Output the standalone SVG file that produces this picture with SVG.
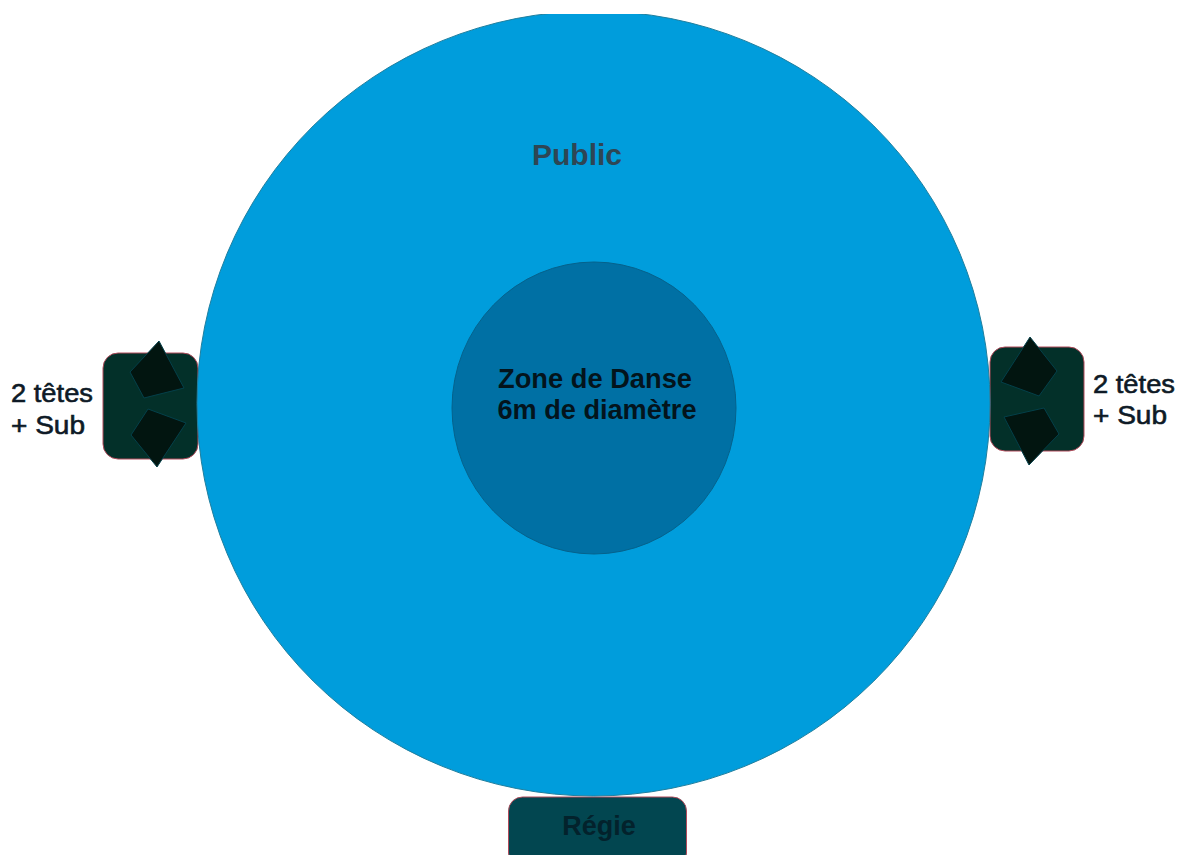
<svg xmlns="http://www.w3.org/2000/svg" width="1177" height="855" viewBox="0 0 1177 855">
<style>
text{font-family:"Liberation Sans",Arial,sans-serif}
.lab{font-size:26px;fill:#0e1a26;stroke:#0e1a26;stroke-width:.6px}
.b{font-weight:bold}
.box{fill:#033029;stroke:#b04a5a;stroke-width:1}
.head{fill:#021510;stroke:#04404a;stroke-width:1}
</style>
<defs><clipPath id="c"><rect x="0" y="14" width="1177" height="841"/></clipPath></defs>
<rect width="1177" height="855" fill="#fff"/>
<g id="speaker-left">
<rect class="box" x="103" y="353" width="95" height="106" rx="15"/>
<polygon class="head" points="159,341 184,388 144,398 130,372"/>
<polygon class="head" points="148,409 186,423 157,467 131,435"/>
<text class="lab" x="11" y="402" textLength="82" lengthAdjust="spacingAndGlyphs">2 têtes</text>
<text class="lab" x="11" y="434" textLength="74" lengthAdjust="spacingAndGlyphs">+ Sub</text>
</g>
<g id="speaker-right">
<rect class="box" x="990" y="347" width="94" height="104" rx="15"/>
<polygon class="head" points="1030,337 1057,371 1039,396 1001,382"/>
<polygon class="head" points="1044,408 1059,434 1029,465 1004,417"/>
<text class="lab" x="1093" y="393" textLength="82" lengthAdjust="spacingAndGlyphs">2 têtes</text>
<text class="lab" x="1093" y="424" textLength="74" lengthAdjust="spacingAndGlyphs">+ Sub</text>
</g>
<g id="regie">
<rect x="508.500" y="797" width="178" height="70" rx="14" fill="#024650" stroke="#b04a5a"/>
<text class="b" x="599" y="835" font-size="27" fill="#03222c" text-anchor="middle">Régie</text>
</g>
<g id="public">
<ellipse cx="593.500" cy="403.500" rx="396.500" ry="392.500" fill="#009ddc" stroke="#1f7f9f" stroke-width="1" clip-path="url(#c)"/>
<text class="b" x="577" y="165" font-size="30" fill="#2e4654" text-anchor="middle">Public</text>
</g>
<g id="zone">
<ellipse cx="594" cy="408" rx="142" ry="146" fill="#0070a4" stroke="#05628c" stroke-width="1"/>
<text class="b" x="595" y="388" font-size="27" fill="#03141c" text-anchor="middle" textLength="194" lengthAdjust="spacingAndGlyphs">Zone de Danse</text>
<text class="b" x="597" y="419" font-size="27" fill="#03141c" text-anchor="middle" textLength="199" lengthAdjust="spacingAndGlyphs">6m de diamètre</text>
</g>
</svg>
